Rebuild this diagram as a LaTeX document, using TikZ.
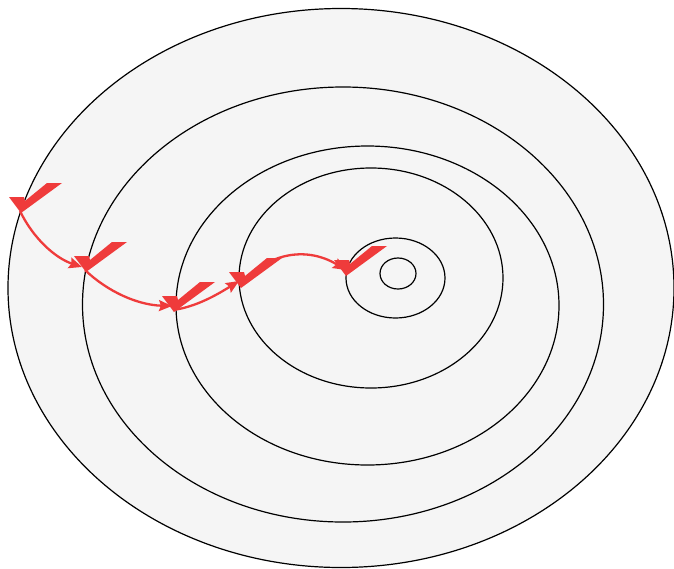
\documentclass[tikz,border=0pt]{standalone}
\usetikzlibrary{arrows.meta}
\definecolor{ringfill}{HTML}{F5F5F5}
\definecolor{chk}{HTML}{EF3B3B}
\begin{document}
\begin{tikzpicture}[x=1pt,y=-1pt,
  ring/.style={draw=black,line width=1.2pt,fill=ringfill},
  link/.style={draw=chk,line width=2.3pt,-{Stealth[length=13pt,width=11pt,inset=2pt]}},
  checkmark/.pic={\fill[chk] (1,2) -- (-11,-14) -- (4,-14) -- (5,-10) -- (27,-28) -- (42,-28) -- cycle;}]
\useasboundingbox (0,0) rectangle (674,568);
\draw[ring] (341,288) ellipse [x radius=333pt, y radius=279.5pt];
\draw[ring] (343,304.5) ellipse [x radius=260.5pt, y radius=217.5pt];
\draw[ring] (367.5,305.5) ellipse [x radius=191.5pt, y radius=159.5pt];
\draw[ring] (371,278) ellipse [x radius=132pt, y radius=110pt];
\draw[ring] (395.5,278) ellipse [x radius=49.5pt, y radius=40pt];
\draw[ring] (398,273.5) ellipse [x radius=18pt, y radius=15.5pt];
\coordinate (c1) at (20,211);
\coordinate (c2) at (85,270);
\coordinate (c3) at (173,310);
\coordinate (c4) at (240,286);
\coordinate (c5) at (345,274);
\coordinate (t2) at (82,267);
\coordinate (t3) at (172,306);
\coordinate (t4) at (239,281);
\coordinate (t5) at (346,270);
\draw[link] (c1) .. controls (33,238) and (55,258) .. (t2);
\draw[link] (c2) .. controls (108,292) and (138,305) .. (t3);
\draw[link] (c3) .. controls (195,307) and (215,296) .. (t4);
\draw[link] (c4) .. controls (265,254) and (305,245) .. (t5);
\pic at (c1) {checkmark};
\pic at (c2) {checkmark};
\pic at (c3) {checkmark};
\pic at (c4) {checkmark};
\pic at (c5) {checkmark};
\end{tikzpicture}
\end{document}
